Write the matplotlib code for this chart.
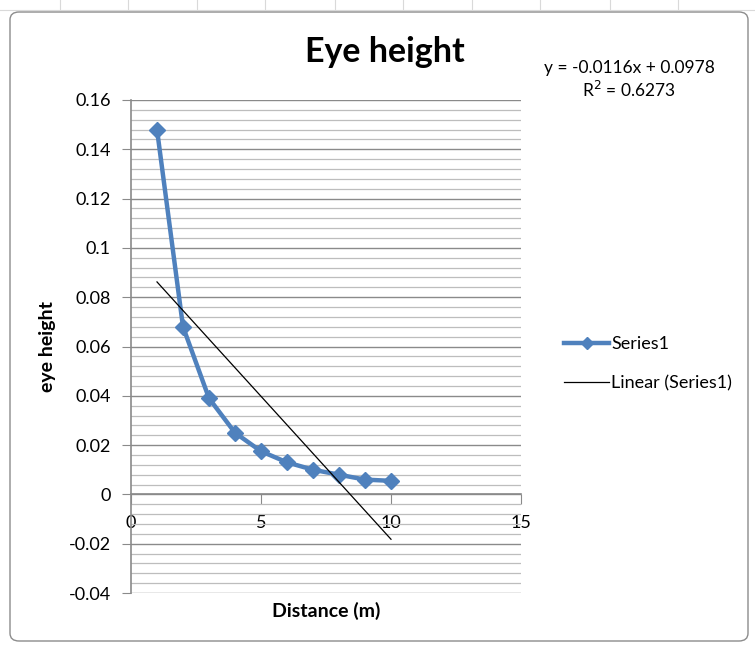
import matplotlib
matplotlib.use("Agg")
import matplotlib.pyplot as plt
from matplotlib.patches import FancyBboxPatch
from matplotlib.ticker import MultipleLocator, FuncFormatter
import numpy as np

# ---- data ----
distance = [1, 2, 3, 4, 5, 6, 7, 8, 9, 10]
eye_height = [0.148, 0.068, 0.039, 0.025, 0.0175, 0.013, 0.010, 0.008, 0.006, 0.0055]
trend_slope = -0.0116
trend_intercept = 0.0978
title = "Eye height"
x_label = "Distance (m)"
y_label = "eye height"
series_name = "Series1"
trend_name = "Linear (Series1)"
eq_text = "y = -0.0116x + 0.0978"
r2_text = "R$^2$ = 0.6273"

plt.rcParams['font.family'] = ['Lato', 'DejaVu Sans']

W, H = 755, 652
fig = plt.figure(figsize=(W / 100, H / 100), dpi=100)
fig.patch.set_facecolor("white")

# spreadsheet-ish background strip and chart border
for xs in [60, 128, 197, 265, 335, 403, 472, 540, 610, 678]:
    fig.add_artist(plt.Line2D([xs / W, xs / W], [1 - 0 / H, 1 - 10 / H], color="#d9d9d9", lw=0.8, zorder=-2))
fig.add_artist(plt.Line2D([0, 1], [1 - 10 / H, 1 - 10 / H], color="#d9d9d9", lw=0.8, zorder=-2))
border = FancyBboxPatch((10 / W, 1 - 641 / H), 738 / W, 629 / H,
                        boxstyle="round,pad=0,rounding_size=0.012",
                        transform=fig.transFigure, facecolor="white",
                        edgecolor="#8c8c8c", lw=1.0, zorder=-1)
fig.add_artist(border)

left, right = 131 / W, 521 / W
top, bottom = 1 - 100 / H, 1 - 593 / H
ax = fig.add_axes([left, bottom, right - left, top - bottom])
ax.set_facecolor("none")

ax.set_xlim(0, 15)
ax.set_ylim(-0.04, 0.16)

# gridlines
ax.yaxis.set_major_locator(MultipleLocator(0.02))
ax.yaxis.set_minor_locator(MultipleLocator(0.004))
ax.xaxis.set_major_locator(MultipleLocator(5))
ax.grid(True, which="major", axis="y", color="#8a8a8a", lw=1.0)
ax.grid(True, which="minor", axis="y", color="#bdbdbd", lw=0.9)
ax.set_axisbelow(True)

for s in ["top", "right"]:
    ax.spines[s].set_visible(False)
ax.spines["left"].set_color("#8a8a8a")
ax.spines["left"].set_linewidth(1.2)
ax.spines["bottom"].set_position(("data", 0))
ax.spines["bottom"].set_color("#8a8a8a")
ax.spines["bottom"].set_linewidth(1.2)

ax.yaxis.set_major_formatter(FuncFormatter(lambda v, p: "%g" % round(v, 4)))
ax.xaxis.set_major_formatter(FuncFormatter(lambda v, p: "%g" % v))
ax.tick_params(axis="y", which="major", length=6.5, color="#8a8a8a", labelsize=13, pad=8)
ax.tick_params(axis="y", which="minor", length=0)
ax.tick_params(axis="x", which="major", length=7, color="#8a8a8a", labelsize=13, pad=8)

# data series
line1, = ax.plot(distance, eye_height, color="#4F81BD", lw=3.2, marker="D",
                 markersize=8.5, markerfacecolor="#4F81BD", markeredgecolor="#4F81BD",
                 zorder=3, clip_on=False)
tx = np.array([distance[0], distance[-1]], dtype=float)
line2, = ax.plot(tx, trend_slope * tx + trend_intercept, color="black", lw=0.9,
                 zorder=4, clip_on=False)

# texts
fig.text(385 / W, 1 - 52 / H, title, ha="center", va="center",
         fontsize=24.5, fontweight="bold")
fig.text(629 / W, 1 - 68 / H, eq_text, ha="center", va="center", fontsize=12.5)
fig.text(629 / W, 1 - 90 / H, r2_text, ha="center", va="center", fontsize=12.5)
fig.text(326 / W, 1 - 611 / H, x_label, ha="center", va="center",
         fontsize=14, fontweight="bold")
fig.text(48 / W, 1 - 347 / H, y_label, ha="center", va="center",
         fontsize=14, fontweight="bold", rotation=90)

# legend
fig.legend([line1, line2], [series_name, trend_name], loc="center left",
           bbox_to_anchor=(548 / W, 1 - 364 / H), frameon=False, fontsize=13,
           handlelength=2.5, handletextpad=0.1, labelspacing=1.3,
           markerscale=0.75)

fig.savefig("out.png", dpi=100)
